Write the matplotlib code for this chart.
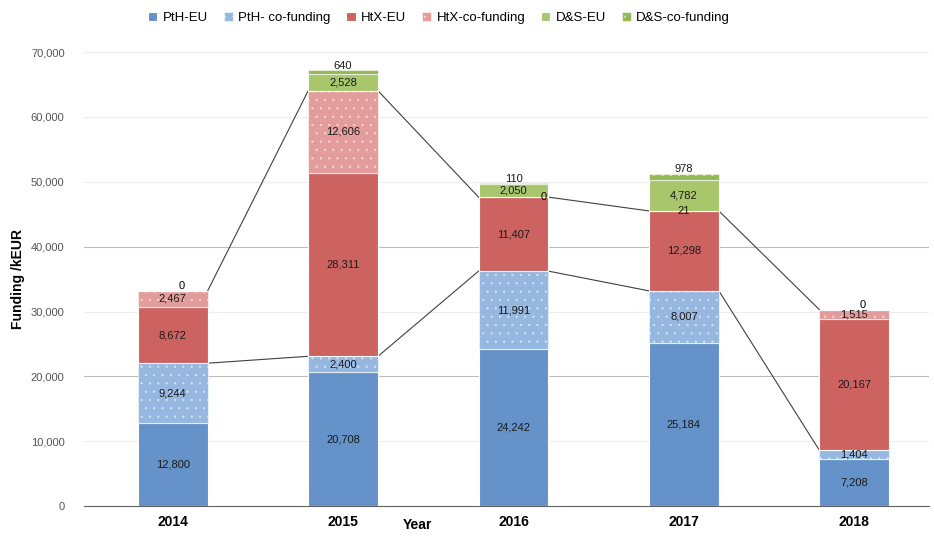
import numpy as np
import matplotlib
matplotlib.use("Agg")
import matplotlib.pyplot as plt

plt.rcParams['font.family'] = ['Liberation Sans', 'DejaVu Sans']
plt.rcParams['hatch.linewidth'] = 0.4

# --- data ---
years = ['2014', '2015', '2016', '2017', '2018']
series_names = ['PtH-EU', 'PtH- co-funding', 'HtX-EU', 'HtX-co-funding', 'D&S-EU', 'D&S-co-funding']
pth_eu = [12800, 20708, 24242, 25184, 7208]
pth_co = [9244, 2400, 11991, 8007, 1404]
htx_eu = [8672, 28311, 11407, 12298, 20167]
htx_co = [2467, 12606, 0, 21, 1515]
ds_eu = [0, 2528, 2050, 4782, 0]
ds_co = [0, 640, 110, 978, 0]

colors = ['#6592c9', '#95b7e0', '#cd6361', '#e39c9b', '#a8c66c', '#92b956']
hatches = [None, '..', None, '..', None, '..']

fig = plt.figure(figsize=(9.34, 5.42), dpi=100)
ax = fig.add_axes([0.09, 0.066, 0.905, 0.838])

x = np.arange(len(years))
w = 0.41
data = [pth_eu, pth_co, htx_eu, htx_co, ds_eu, ds_co]
bottom = np.zeros(len(years))
tops = []
for k, vals in enumerate(data):
    vals = np.array(vals, dtype=float)
    ec = (1, 1, 1, 0.55) if hatches[k] else 'white'
    ax.bar(x, vals, w, bottom=bottom, color=colors[k], edgecolor=ec,
           linewidth=0.8, hatch=hatches[k], label=series_names[k], zorder=3)
    for i, v in enumerate(vals):
        if v == 0:
            continue
        is_top = all(np.array(d)[i] == 0 for d in data[k + 1:])
        if v < 1000 and is_top:
            ypos = bottom[i] + v + 700
        else:
            ypos = bottom[i] + v / 2
        ax.text(x[i], ypos, f'{int(v):,}', ha='center', va='center',
                fontsize=8, color='#1a1a1a', zorder=5)
    bottom = bottom + vals
    tops.append(bottom.copy())

# zero labels
ax.text(x[0] + 0.05, tops[-1][0] + 700, '0', ha='center', va='center', fontsize=8, zorder=5)
ax.text(x[4] + 0.05, tops[-1][4] + 700, '0', ha='center', va='center', fontsize=8, zorder=5)
ax.text(x[2] + 0.18, tops[3][2], '0', ha='center', va='center', fontsize=8, zorder=5)

# series lines (PtH total and HtX total)
for lvl in (tops[1], tops[3]):
    for i in range(len(years) - 1):
        ax.plot([x[i] + w / 2, x[i + 1] - w / 2], [lvl[i], lvl[i + 1]],
                color='#404040', lw=0.8, zorder=2)

ax.set_xlim(-0.52, 4.44)
ax.set_ylim(0, 70000)
ax.set_yticks(np.arange(0, 70001, 10000))
ax.yaxis.set_major_formatter(matplotlib.ticker.FuncFormatter(lambda v, p: f'{int(v):,}'))
ax.tick_params(axis='y', length=0, labelsize=8, labelcolor='#555555', pad=14)
ax.set_xticks(x)
ax.set_xticklabels(years, fontsize=10, fontweight='bold')
ax.tick_params(axis='x', length=0, pad=6)

for v in range(10000, 70001, 10000):
    c = '#bdbdbd' if v in (20000, 40000) else '#ececec'
    ax.axhline(v, color=c, lw=0.8, zorder=0)
for s in ['top', 'right', 'left']:
    ax.spines[s].set_visible(False)
ax.spines['bottom'].set_color('#606060')

ax.set_ylabel('Funding /kEUR', fontsize=10, fontweight='bold')
ax.yaxis.set_label_coords(-0.07, 0.5)
ax.set_xlabel('Year', fontsize=10, fontweight='bold')
ax.xaxis.set_label_coords(0.395, -0.025)

ax.legend(loc='upper center', bbox_to_anchor=(0.42, 1.115), ncol=6, frameon=False,
          fontsize=9.5, handlelength=0.7, handleheight=0.7, handletextpad=0.4,
          columnspacing=1.2)

fig.savefig('out.png', dpi=100)
